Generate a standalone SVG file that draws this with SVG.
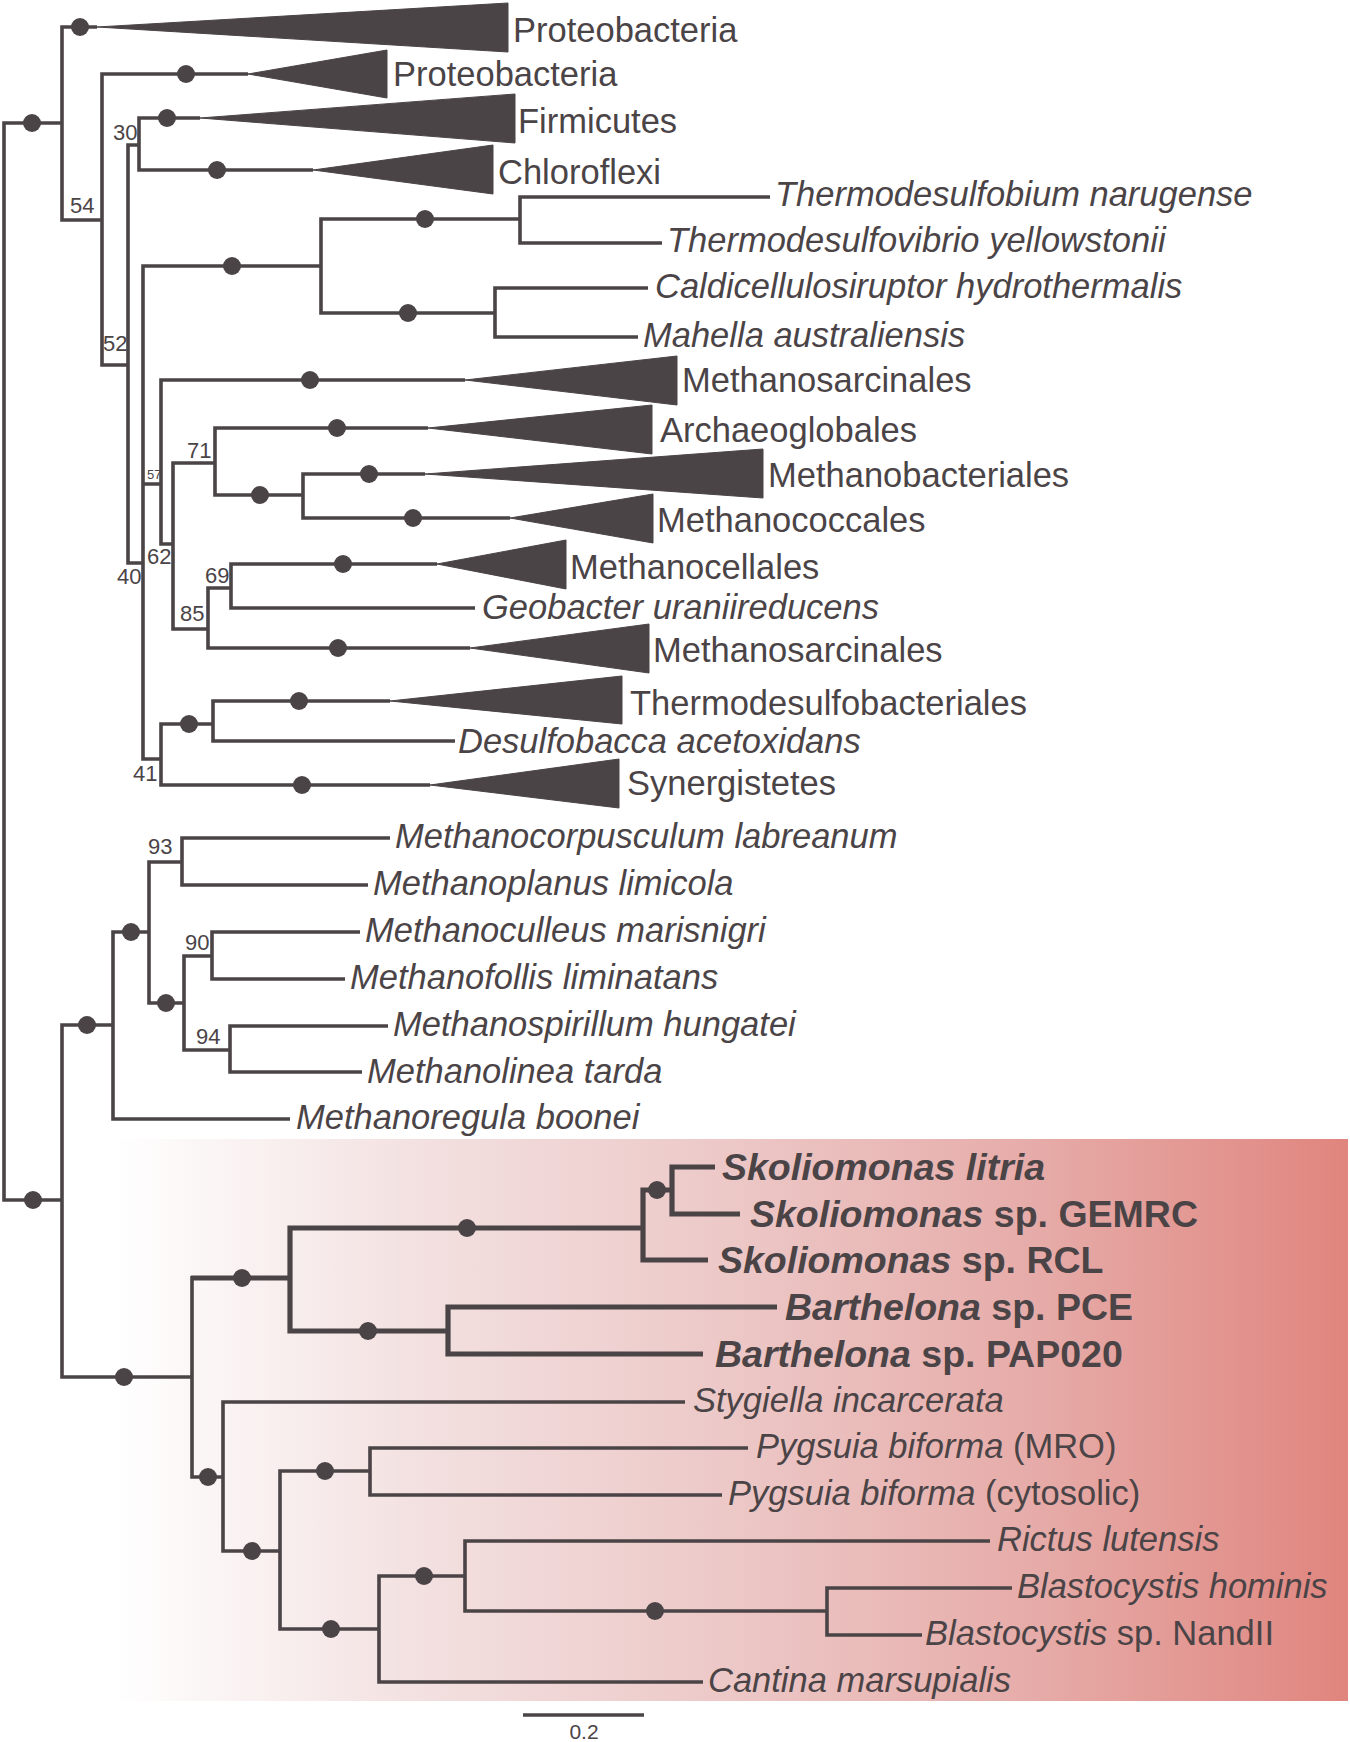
<svg xmlns="http://www.w3.org/2000/svg" width="1350" height="1742" viewBox="0 0 1350 1742">
<defs>
<linearGradient id="pink" x1="0" y1="0" x2="1" y2="0">
<stop offset="0" stop-color="#ffffff"/>
<stop offset="0.25" stop-color="#f3e0e0"/>
<stop offset="0.5" stop-color="#ecc8c7"/>
<stop offset="0.75" stop-color="#e6aba8"/>
<stop offset="1" stop-color="#e0857e"/>
</linearGradient>
<style>
.br{fill:none;stroke:#4b4447;stroke-width:3.6;stroke-linejoin:miter}
.bt{fill:none;stroke:#4b4447;stroke-width:5.2;stroke-linejoin:miter}
.tri{fill:#4b4447;stroke:#4b4447;stroke-width:1;stroke-linejoin:round}
.dot{fill:#4b4447}
text{font-family:"Liberation Sans",Arial,sans-serif;fill:#4b4447}
.lab{font-size:34.5px}
.it{font-size:34.5px;font-style:italic}
.bd{font-size:37.5px;font-weight:bold}
.bs{font-size:22px}
.bs2{font-size:13px}
</style>
</defs>
<rect width="1350" height="1742" fill="#ffffff"/>
<rect id="highlight" x="113" y="1139" width="1235" height="562" fill="url(#pink)"/>
<g id="connectors">
<path class="br" d="M62 123 H4 V1200 H62"/>
<path class="br" d="M97 27 H62 V220 H102"/>
<path class="br" d="M248 74 H102 V365 H128"/>
<path class="br" d="M139 145 H128 V563 H143"/>
<path class="br" d="M200 118 H139 V170 H313"/>
<path class="br" d="M321 266 H143 V759 H161 M143 484 H161"/>
<path class="br" d="M520 219 H321 V313 H495"/>
<path class="br" d="M770 197 H520 V243 H662"/>
<path class="br" d="M648 288 H495 V337 H638"/>
<path class="br" d="M465 380 H161 V544 H173"/>
<path class="br" d="M215 463 H173 V629 H208"/>
<path class="br" d="M428 428 H215 V495 H303"/>
<path class="br" d="M425 474 H303 V518 H510"/>
<path class="br" d="M231 588 H208 V648 H470"/>
<path class="br" d="M437 564 H231 V608 H475"/>
<path class="br" d="M213 724 H161 V785 H430"/>
<path class="br" d="M390 701 H213 V741 H455"/>
<path class="br" d="M113 1025 H62 V1377 H192"/>
<path class="br" d="M149 932 H113 V1119 H290"/>
<path class="br" d="M182 862 H149 V1003 H184"/>
<path class="br" d="M390 838 H182 V885 H368"/>
<path class="br" d="M212 956 H184 V1050 H230"/>
<path class="br" d="M360 932 H212 V979 H345"/>
<path class="br" d="M388 1026 H230 V1072 H362"/>
<path class="br" d="M192 1276 V1477 H223"/>
<path class="bt" d="M191 1278 H290"/>
<path class="bt" d="M643 1228 H290 V1331 H448"/>
<path class="bt" d="M672 1190 H643 V1260 H708"/>
<path class="bt" d="M715 1167 H672 V1214 H740"/>
<path class="bt" d="M777 1307 H448 V1354 H703"/>
<path class="br" d="M685 1402 H223 V1551 H280"/>
<path class="br" d="M370 1471 H280 V1629 H379"/>
<path class="br" d="M748 1448 H370 V1495 H722"/>
<path class="br" d="M465 1576 H379 V1682 H703"/>
<path class="br" d="M990 1541 H465 V1611 H827"/>
<path class="br" d="M1012 1588 H827 V1635 H922"/>
</g>
<g id="support">
<circle class="dot" cx="32" cy="123" r="9"/>
<circle class="dot" cx="80" cy="27" r="9"/>
<circle class="dot" cx="186" cy="74" r="9"/>
<circle class="dot" cx="167" cy="118" r="9"/>
<circle class="dot" cx="217" cy="170" r="9"/>
<circle class="dot" cx="232" cy="266" r="9"/>
<circle class="dot" cx="425" cy="219" r="9"/>
<circle class="dot" cx="408" cy="313" r="9"/>
<circle class="dot" cx="310" cy="380" r="9"/>
<circle class="dot" cx="337" cy="428" r="9"/>
<circle class="dot" cx="260" cy="495" r="9"/>
<circle class="dot" cx="369" cy="474" r="9"/>
<circle class="dot" cx="413" cy="518" r="9"/>
<circle class="dot" cx="343" cy="564" r="9"/>
<circle class="dot" cx="338" cy="648" r="9"/>
<circle class="dot" cx="189" cy="724" r="9"/>
<circle class="dot" cx="299" cy="701" r="9"/>
<circle class="dot" cx="302" cy="785" r="9"/>
<circle class="dot" cx="33" cy="1200" r="9"/>
<circle class="dot" cx="87" cy="1025" r="9"/>
<circle class="dot" cx="131" cy="932" r="9"/>
<circle class="dot" cx="166" cy="1003" r="9"/>
<circle class="dot" cx="124" cy="1377" r="9"/>
<circle class="dot" cx="242" cy="1278" r="9"/>
<circle class="dot" cx="467" cy="1228" r="9"/>
<circle class="dot" cx="657" cy="1190" r="9"/>
<circle class="dot" cx="368" cy="1331" r="9"/>
<circle class="dot" cx="208" cy="1477" r="9"/>
<circle class="dot" cx="252" cy="1551" r="9"/>
<circle class="dot" cx="325" cy="1471" r="9"/>
<circle class="dot" cx="331" cy="1629" r="9"/>
<circle class="dot" cx="424" cy="1576" r="9"/>
<circle class="dot" cx="655" cy="1611" r="9"/>
<text class="bs" x="70" y="213">54</text>
<text class="bs" x="113" y="140">30</text>
<text class="bs" x="103" y="351">52</text>
<text class="bs2" x="147" y="479">57</text>
<text class="bs" x="187" y="458">71</text>
<text class="bs" x="117" y="584">40</text>
<text class="bs" x="147" y="564">62</text>
<text class="bs" x="205" y="583">69</text>
<text class="bs" x="180" y="621">85</text>
<text class="bs" x="133" y="781">41</text>
<text class="bs" x="148" y="854">93</text>
<text class="bs" x="185" y="950">90</text>
<text class="bs" x="196" y="1044">94</text>
</g>
<g id="clade-proteobacteria-1"><polygon class="tri" points="97,27 508,3 508,52"/><text class="lab" x="513" y="42">Proteobacteria</text></g>
<g id="clade-proteobacteria-2"><polygon class="tri" points="248,74 387,50 387,98"/><text class="lab" x="393" y="86">Proteobacteria</text></g>
<g id="clade-firmicutes"><polygon class="tri" points="200,118 515,94 515,143"/><text class="lab" x="518" y="133">Firmicutes</text></g>
<g id="clade-chloroflexi"><polygon class="tri" points="313,170 493,145 493,194"/><text class="lab" x="498" y="184">Chloroflexi</text></g>
<g id="leaf-thermodesulfobium"><text class="it" x="775" y="206">Thermodesulfobium narugense</text></g>
<g id="leaf-thermodesulfovibrio"><text class="it" x="667" y="252">Thermodesulfovibrio yellowstonii</text></g>
<g id="leaf-caldicellulosiruptor"><text class="it" x="655" y="298">Caldicellulosiruptor hydrothermalis</text></g>
<g id="leaf-mahella"><text class="it" x="643" y="347">Mahella australiensis</text></g>
<g id="clade-methanosarcinales-1"><polygon class="tri" points="465,380 677,356 677,405"/><text class="lab" x="682" y="392">Methanosarcinales</text></g>
<g id="clade-archaeoglobales"><polygon class="tri" points="428,428 652,405 652,454"/><text class="lab" x="660" y="442">Archaeoglobales</text></g>
<g id="clade-methanobacteriales"><polygon class="tri" points="425,474 763,449 763,498"/><text class="lab" x="768" y="487">Methanobacteriales</text></g>
<g id="clade-methanococcales"><polygon class="tri" points="510,518 653,494 653,543"/><text class="lab" x="657" y="532">Methanococcales</text></g>
<g id="clade-methanocellales"><polygon class="tri" points="437,564 566,540 566,589"/><text class="lab" x="570" y="579">Methanocellales</text></g>
<g id="leaf-geobacter"><text class="it" x="482" y="619">Geobacter uraniireducens</text></g>
<g id="clade-methanosarcinales-2"><polygon class="tri" points="470,648 649,624 649,673"/><text class="lab" x="653" y="662">Methanosarcinales</text></g>
<g id="clade-thermodesulfobacteriales"><polygon class="tri" points="390,701 622,676 622,724"/><text class="lab" x="630" y="715">Thermodesulfobacteriales</text></g>
<g id="leaf-desulfobacca"><text class="it" x="458" y="753">Desulfobacca acetoxidans</text></g>
<g id="clade-synergistetes"><polygon class="tri" points="430,785 619,759 619,808"/><text class="lab" x="627" y="795">Synergistetes</text></g>
<g id="leaf-methanocorpusculum"><text class="it" x="395" y="848">Methanocorpusculum labreanum</text></g>
<g id="leaf-methanoplanus"><text class="it" x="373" y="895">Methanoplanus limicola</text></g>
<g id="leaf-methanoculleus"><text class="it" x="365" y="942">Methanoculleus marisnigri</text></g>
<g id="leaf-methanofollis"><text class="it" x="350" y="989">Methanofollis liminatans</text></g>
<g id="leaf-methanospirillum"><text class="it" x="393" y="1036">Methanospirillum hungatei</text></g>
<g id="leaf-methanolinea"><text class="it" x="367" y="1083">Methanolinea tarda</text></g>
<g id="leaf-methanoregula"><text class="it" x="296" y="1129">Methanoregula boonei</text></g>
<g id="leaf-skoliomonas-litria"><text class="bd" x="722" y="1180"><tspan font-style="italic">Skoliomonas litria</tspan></text></g>
<g id="leaf-skoliomonas-gemrc"><text class="bd" x="750" y="1227"><tspan font-style="italic">Skoliomonas</tspan> sp. GEMRC</text></g>
<g id="leaf-skoliomonas-rcl"><text class="bd" x="718" y="1273"><tspan font-style="italic">Skoliomonas</tspan> sp. RCL</text></g>
<g id="leaf-barthelona-pce"><text class="bd" x="785" y="1320"><tspan font-style="italic">Barthelona</tspan> sp. PCE</text></g>
<g id="leaf-barthelona-pap020"><text class="bd" x="715" y="1367"><tspan font-style="italic">Barthelona</tspan> sp. PAP020</text></g>
<g id="leaf-stygiella"><text class="it" x="693" y="1412">Stygiella incarcerata</text></g>
<g id="leaf-pygsuia-mro"><text class="lab" x="756" y="1458"><tspan font-style="italic">Pygsuia biforma</tspan> (MRO)</text></g>
<g id="leaf-pygsuia-cyto"><text class="lab" x="728" y="1505"><tspan font-style="italic">Pygsuia biforma</tspan> (cytosolic)</text></g>
<g id="leaf-rictus"><text class="it" x="997" y="1551">Rictus lutensis</text></g>
<g id="leaf-blastocystis-hominis"><text class="it" x="1017" y="1598">Blastocystis hominis</text></g>
<g id="leaf-blastocystis-nandii"><text class="lab" x="925" y="1645"><tspan font-style="italic">Blastocystis</tspan> sp. NandII</text></g>
<g id="leaf-cantina"><text class="it" x="708" y="1692">Cantina marsupialis</text></g>
<g id="scalebar"><line x1="523" y1="1715" x2="644" y2="1715" stroke="#4b4447" stroke-width="3.4"/><text x="584" y="1739" font-size="21" text-anchor="middle">0.2</text></g>
</svg>
